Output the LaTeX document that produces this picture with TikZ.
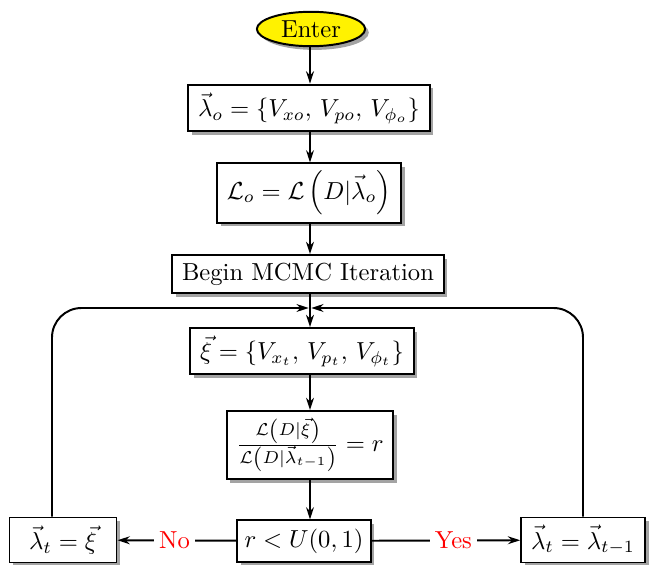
\documentclass[tikz,border=0pt]{standalone}
\usetikzlibrary{shapes.geometric,shadows,arrows.meta}
\begin{document}
\begin{tikzpicture}[x=0.4065pt,y=-0.4065pt,
  box/.style={draw,thick,fill=white,rectangle,inner xsep=4pt,inner ysep=3pt,
    drop shadow={shadow xshift=1.5pt,shadow yshift=-1.5pt,fill=black!45,opacity=0.8}},
  conn/.style={thick,-{Stealth[length=5pt,width=3.2pt]}},
  lbl/.style={fill=white,text=red,inner sep=2pt}]
\useasboundingbox (0,0) rectangle (657,565);
\node[ellipse,draw,thick,fill=yellow,minimum width=44pt,minimum height=14pt,inner sep=0pt,
  drop shadow={shadow xshift=1.5pt,shadow yshift=-1.5pt,fill=black!45,opacity=0.8}] (enter) at (311,29) {Enter};
\node[box,minimum height=19pt] (b1) at (309,108) {$\vec{\lambda}_o = \{V_{xo},\, V_{po},\, V_{\phi_o}\}$};
\node[box,minimum height=20pt] (b2) at (309,193) {$\mathcal{L}_o = \mathcal{L}\left(D|\vec{\lambda}_o\right)$};
\node[box,minimum height=15.4pt] (b3) at (308,274) {Begin MCMC Iteration};
\coordinate (m) at (310,308);
\node[box,minimum height=18.3pt] (b4) at (302,351) {$\vec{\xi} = \{V_{x_t},\, V_{p_t},\, V_{\phi_t}\}$};
\node[box,minimum height=27.6pt] (b5) at (310,445) {$\frac{\mathcal{L}\left(D|\vec{\xi}\right)}{\mathcal{L}\left(D|\vec{\lambda}_{t-1}\right)} = r$};
\node[box,minimum height=16.7pt,inner xsep=3pt] (b6) at (304,541) {$r < U(0,1)$};
\node[box,minimum height=18.3pt,minimum width=43.5pt] (L) at (63,540) {$\vec{\lambda}_t = \vec{\xi}$};
\node[box,minimum height=18.3pt] (R) at (583,540) {$\vec{\lambda}_t = \vec{\lambda}_{t-1}$};
\coordinate (lx) at (52,308);
\coordinate (rx) at (583,308);
\draw[conn] (enter.south -| m) -- (b1.north -| m);
\draw[conn] (b1.south -| m) -- (b2.north -| m);
\draw[conn] (b2.south -| m) -- (b3.north -| m);
\draw[conn] (b3.south -| m) -- (b4.north -| m);
\draw[conn] (b4.south -| m) -- (b5.north -| m);
\draw[conn] (b5.south -| m) -- (b6.north -| m);
\draw[conn] (b6) -- node[lbl,pos=0.52]{No} (L);
\draw[conn] (b6) -- node[lbl,pos=0.55]{Yes} (R);
\draw[conn,rounded corners=12pt] (L.north -| lx) -- (lx) -- ([xshift=-0.5pt]m);
\draw[conn,rounded corners=12pt] (R.north) -- (rx) -- ([xshift=0.5pt]m);
\end{tikzpicture}
\end{document}
